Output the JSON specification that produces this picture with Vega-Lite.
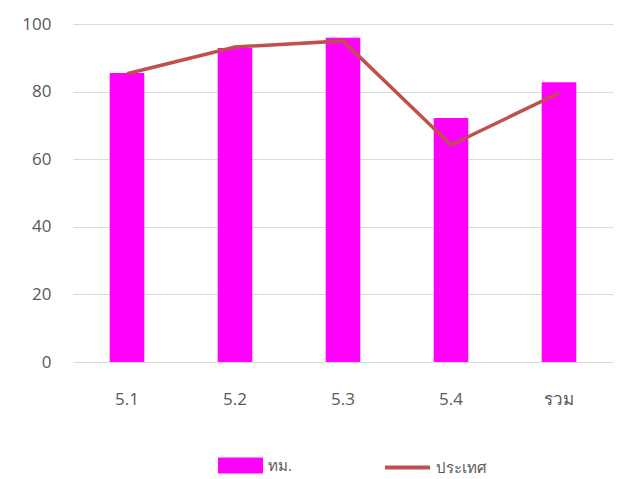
{
  "$schema": "https://vega.github.io/schema/vega-lite/v6.json",
  "width": 540,
  "height": 338,
  "autosize": "none",
  "padding": {"left": 73, "top": 24, "right": 11, "bottom": 117},
  "background": "white",
  "data": {"values": [
    {"cat": "5.1", "a": 85.5, "b": 85.3},
    {"cat": "5.2", "a": 92.9, "b": 93.2},
    {"cat": "5.3", "a": 95.9, "b": 95.0},
    {"cat": "5.4", "a": 72.2, "b": 64.2},
    {"cat": "รวม", "a": 82.8, "b": 79.6}
  ]},
  "config": {
    "view": {"stroke": null},
    "font": "Open Sans",
    "axis": {"labelColor": "#595959", "labelFontSize": 17, "labelFont": "Open Sans", "domain": false, "ticks": false, "title": null},
    "legend": {"labelColor": "#595959", "labelFontSize": 15, "padding": 0, "title": null}
  },
  "encoding": {
    "x": {"field": "cat", "type": "nominal", "sort": null,
      "scale": {"paddingInner": 0.68, "paddingOuter": 0.34},
      "axis": {"labelAngle": 0, "labelPadding": 29, "grid": false}}
  },
  "layer": [
    {
      "mark": {"type": "bar", "color": "#FF00FF"},
      "encoding": {
        "y": {"field": "a", "type": "quantitative",
          "scale": {"domain": [0, 100]},
          "axis": {"values": [0, 20, 40, 60, 80, 100], "grid": true, "gridColor": "#d9d9d9", "gridWidth": 1, "labelPadding": 22}},
        "color": {"datum": "ทม.", "type": "nominal",
          "scale": {"range": ["#FF00FF"]},
          "legend": {"orient": "none", "legendX": 145, "legendY": 419, "symbolType": "M-1,-0.356H1V0.356H-1Z", "symbolSize": 2025, "symbolStrokeWidth": 0, "symbolOpacity": 1, "labelOffset": 5}}
      }
    },
    {
      "mark": {"type": "line", "color": "#C0504D", "strokeWidth": 3.5},
      "encoding": {
        "y": {"field": "b", "type": "quantitative"},
        "stroke": {"datum": "ประเทศ", "type": "nominal",
          "scale": {"range": ["#C0504D"]},
          "legend": {"orient": "none", "legendX": 310, "legendY": 419, "symbolType": "stroke", "symbolSize": 2025, "symbolStrokeWidth": 4, "labelOffset": 4}}
      }
    }
  ]
}
